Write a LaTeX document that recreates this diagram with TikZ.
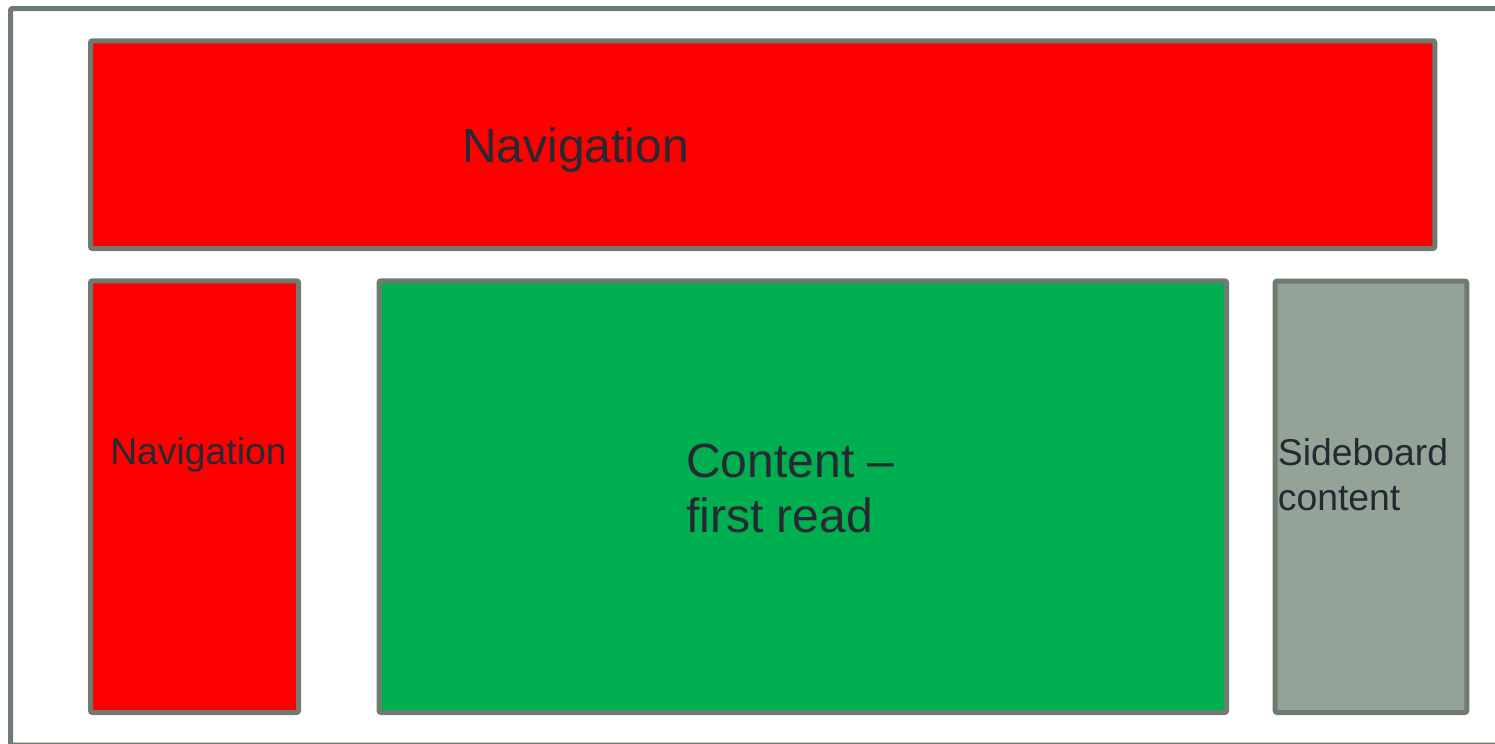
\documentclass[tikz,border=0pt]{standalone}
\usepackage{fontspec}
\setmainfont{Liberation Sans}
\definecolor{framegray}{HTML}{6F7A71}
\definecolor{sidegray}{HTML}{93A397}
\definecolor{navred}{HTML}{FF0000}
\definecolor{contgreen}{HTML}{00B050}
\definecolor{txt}{HTML}{262932}
\tikzset{
  panel/.style={draw=framegray, line width=3.75pt, rounded corners=1.5pt},
  bigtxt/.style={anchor=base west, inner sep=0pt, text=txt, font=\fontsize{36}{41}\selectfont},
  smalltxt/.style={anchor=base west, inner sep=0pt, text=txt, font=\fontsize{28}{33}\selectfont},
}
\begin{document}
\begin{tikzpicture}[x=0.75pt, y=-0.75pt]
\useasboundingbox (0,0) rectangle (1495,743);
\begin{scope}
\clip (0,0) rectangle (1495,743);
\draw[draw=framegray, line width=3.75pt, rounded corners=1.5pt] (10.5,8.5) rectangle (1530,745);
\end{scope}
\draw[panel, fill=navred] (90.5,40.8) rectangle (1434.8,248.5);
\draw[panel, fill=navred] (90.5,280.8) rectangle (298.5,712.5);
\draw[panel, fill=contgreen] (379,280.8) rectangle (1226.5,712.5);
\draw[panel, fill=sidegray] (1275.2,281) rectangle (1466.8,712.5);
\node[bigtxt] (topnavtext) at (462,162) {Navigation};
\node[smalltxt] (leftnavtext) at (110,464) {Navigation};
\node[bigtxt] (contentone) at (686,477) {Content –};
\node[bigtxt] (contenttwo) at (686,532) {first read};
\node[smalltxt] (sideone) at (1277.6,465.5) {Sideboard};
\node[smalltxt] (sidetwo) at (1277.6,510.5) {content};
\end{tikzpicture}
\end{document}
